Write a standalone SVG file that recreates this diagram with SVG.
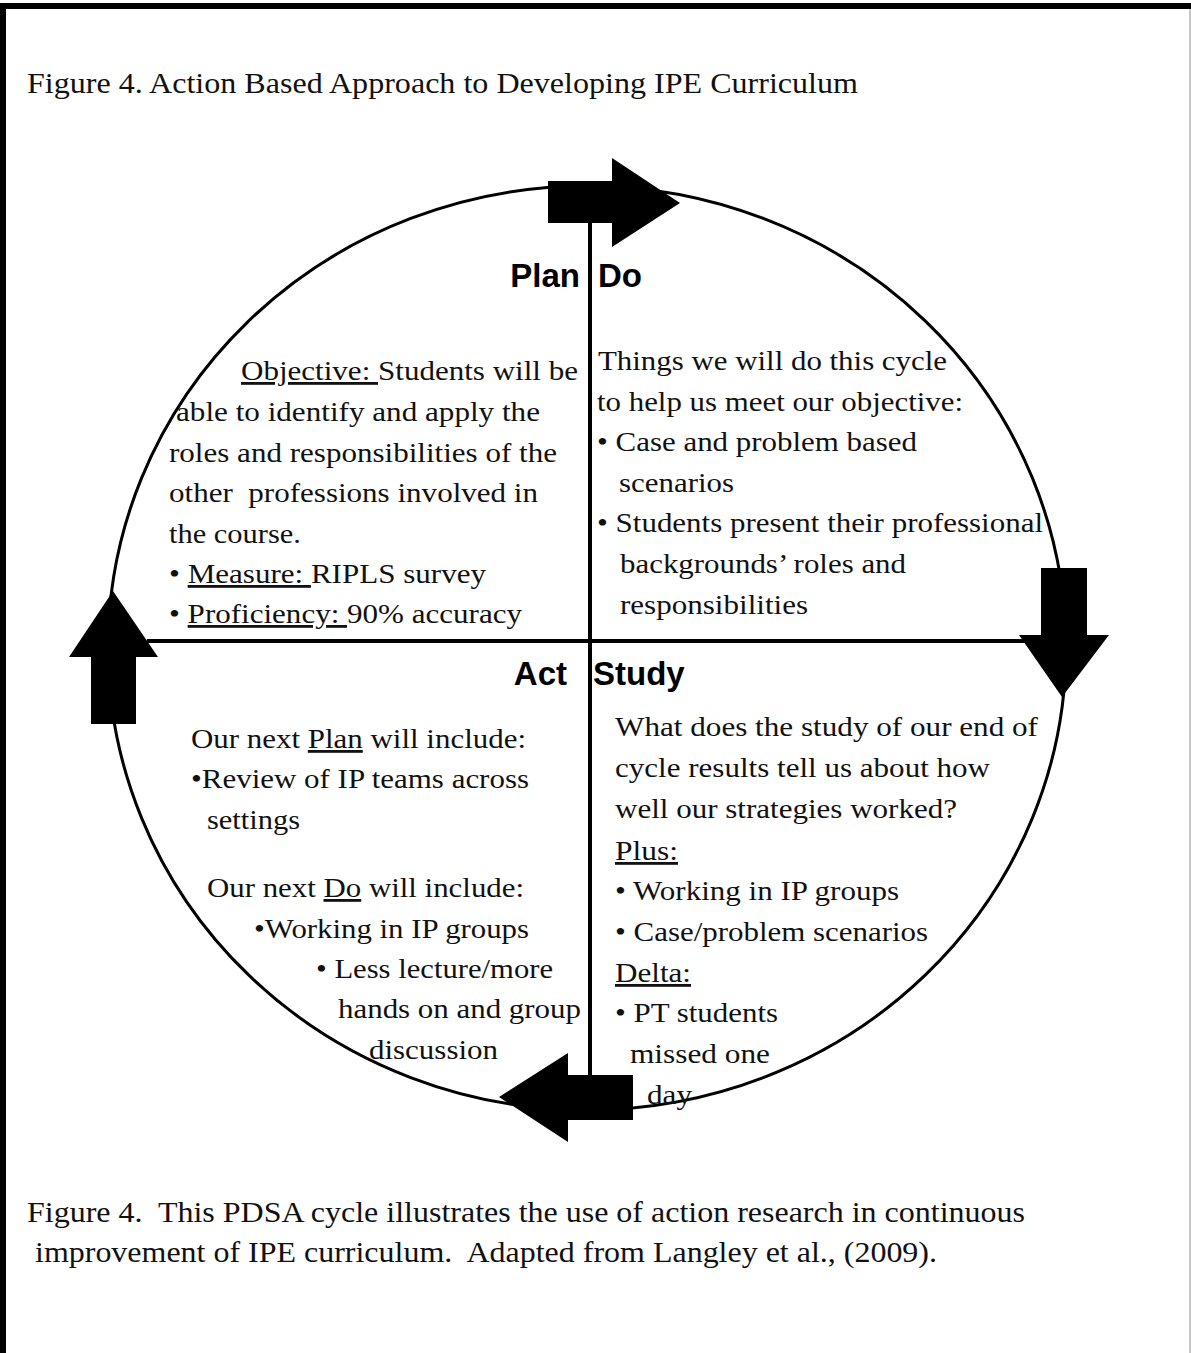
<svg xmlns="http://www.w3.org/2000/svg" width="1191" height="1353" viewBox="0 0 1191 1353">
<style>
  .t { font-family: "Liberation Serif", "Times New Roman", serif; font-size: 28px; fill: #111; }
  .cap { font-family: "Liberation Serif", "Times New Roman", serif; font-size: 29px; fill: #111; }
  .lbl { font-family: "Liberation Sans", Arial, sans-serif; font-size: 33px; font-weight: bold; fill: #000; }
  .u { text-decoration: underline; }
  .arrow { fill: #000; }
</style>
<rect x="0" y="0" width="1191" height="1353" fill="#fff"/>
<g id="frame">
  <rect x="0" y="3" width="1191" height="6" fill="#000"/>
  <rect x="0" y="3" width="6" height="1350" fill="#000"/>
  <rect x="1189" y="9" width="2" height="1344" fill="#c8c8c8"/>
</g>
<text class="cap" x="27" y="93" textLength="831" lengthAdjust="spacingAndGlyphs">Figure 4. Action Based Approach to Developing IPE Curriculum</text>

<g id="connectors">
  <ellipse cx="587" cy="648" rx="479" ry="462" fill="none" stroke="#000" stroke-width="3"/>
  <line x1="590" y1="200" x2="590" y2="1080" stroke="#000" stroke-width="4"/>
  <line x1="147" y1="641" x2="1030" y2="641" stroke="#000" stroke-width="4"/>
</g>

<g id="arrow-top">
  <polygon class="arrow" points="548,181 612,181 612,158 680,203 612,247 612,223 548,223"/>
</g>
<g id="arrow-right">
  <polygon class="arrow" points="1041,568 1087,568 1087,635 1109,635 1062,697 1019,635 1041,635"/>
</g>
<g id="arrow-bottom">
  <polygon class="arrow" points="633,1075 633,1120 568,1120 568,1142 499,1097 568,1053 568,1075"/>
</g>
<g id="arrow-left">
  <polygon class="arrow" points="91,724 91,657 69,657 113,591 158,657 136,657 136,724"/>
</g>

<g id="plan">
  <text class="lbl" x="580" y="287" text-anchor="end">Plan</text>
  <text class="t" x="241" y="380" textLength="337" lengthAdjust="spacingAndGlyphs"><tspan class="u">Objective: </tspan>Students will be</text>
  <text class="t" x="176" y="421" textLength="364" lengthAdjust="spacingAndGlyphs">able to identify and apply the</text>
  <text class="t" x="169" y="462" textLength="388" lengthAdjust="spacingAndGlyphs">roles and responsibilities of the</text>
  <text class="t" x="169" y="502" textLength="369" lengthAdjust="spacingAndGlyphs" xml:space="preserve">other  professions involved in</text>
  <text class="t" x="169" y="543" textLength="132" lengthAdjust="spacingAndGlyphs">the course.</text>
  <text class="t" x="169" y="583" textLength="317" lengthAdjust="spacingAndGlyphs">• <tspan class="u">Measure: </tspan>RIPLS survey</text>
  <text class="t" x="169" y="623" textLength="353" lengthAdjust="spacingAndGlyphs">• <tspan class="u">Proficiency: </tspan>90% accuracy</text>
</g>

<g id="do">
  <text class="lbl" x="598" y="287">Do</text>
  <text class="t" x="598" y="370" textLength="349" lengthAdjust="spacingAndGlyphs">Things we will do this cycle</text>
  <text class="t" x="597" y="411" textLength="366" lengthAdjust="spacingAndGlyphs">to help us meet our objective:</text>
  <text class="t" x="597" y="451" textLength="320" lengthAdjust="spacingAndGlyphs">• Case and problem based</text>
  <text class="t" x="619" y="492" textLength="115" lengthAdjust="spacingAndGlyphs">scenarios</text>
  <text class="t" x="597" y="532" textLength="446" lengthAdjust="spacingAndGlyphs">• Students present their professional</text>
  <text class="t" x="620" y="573" textLength="286" lengthAdjust="spacingAndGlyphs">backgrounds’ roles and</text>
  <text class="t" x="620" y="614" textLength="188" lengthAdjust="spacingAndGlyphs">responsibilities</text>
</g>

<g id="act">
  <text class="lbl" x="567" y="685" text-anchor="end">Act</text>
  <text class="t" x="191" y="748" textLength="335" lengthAdjust="spacingAndGlyphs">Our next <tspan class="u">Plan</tspan> will include:</text>
  <text class="t" x="191" y="788" textLength="338" lengthAdjust="spacingAndGlyphs">•Review of IP teams across</text>
  <text class="t" x="207" y="829" textLength="93" lengthAdjust="spacingAndGlyphs">settings</text>
  <text class="t" x="207" y="897" textLength="317" lengthAdjust="spacingAndGlyphs">Our next <tspan class="u">Do</tspan> will include:</text>
  <text class="t" x="254" y="938" textLength="275" lengthAdjust="spacingAndGlyphs">•Working in IP groups</text>
  <text class="t" x="316" y="978" textLength="237" lengthAdjust="spacingAndGlyphs">• Less lecture/more</text>
  <text class="t" x="338" y="1018" textLength="243" lengthAdjust="spacingAndGlyphs">hands on and group</text>
  <text class="t" x="369" y="1059" textLength="129" lengthAdjust="spacingAndGlyphs">discussion</text>
</g>

<g id="study">
  <text class="lbl" x="593" y="685">Study</text>
  <text class="t" x="615" y="736" textLength="423" lengthAdjust="spacingAndGlyphs">What does the study of our end of</text>
  <text class="t" x="615" y="777" textLength="375" lengthAdjust="spacingAndGlyphs">cycle results tell us about how</text>
  <text class="t" x="615" y="818" textLength="342" lengthAdjust="spacingAndGlyphs">well our strategies worked?</text>
  <text class="t" x="615" y="860" textLength="63" lengthAdjust="spacingAndGlyphs"><tspan class="u">Plus:</tspan></text>
  <text class="t" x="615" y="900" textLength="284" lengthAdjust="spacingAndGlyphs">• Working in IP groups</text>
  <text class="t" x="615" y="941" textLength="313" lengthAdjust="spacingAndGlyphs">• Case/problem scenarios</text>
  <text class="t" x="615" y="982" textLength="76" lengthAdjust="spacingAndGlyphs"><tspan class="u">Delta:</tspan></text>
  <text class="t" x="615" y="1022" textLength="163" lengthAdjust="spacingAndGlyphs">• PT students</text>
  <text class="t" x="630" y="1063" textLength="140" lengthAdjust="spacingAndGlyphs">missed one</text>
  <text class="t" x="647" y="1104" textLength="45" lengthAdjust="spacingAndGlyphs">day</text>
</g>

<text class="cap" x="27" y="1222" textLength="998" lengthAdjust="spacingAndGlyphs" xml:space="preserve">Figure 4.  This PDSA cycle illustrates the use of action research in continuous</text>
<text class="cap" x="35" y="1262" textLength="902" lengthAdjust="spacingAndGlyphs" xml:space="preserve">improvement of IPE curriculum.  Adapted from Langley et al., (2009).</text>
</svg>
